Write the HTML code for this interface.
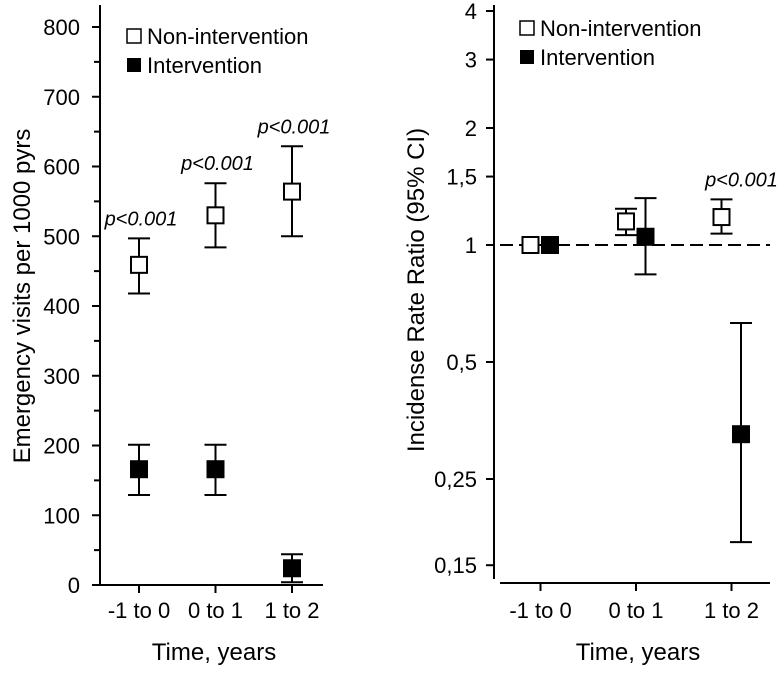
<!DOCTYPE html>
<html><head><meta charset="utf-8"><style>
html,body{margin:0;padding:0;background:#fff}
svg text{font-family:"Liberation Sans",Arial,sans-serif;fill:#000}
</style></head><body>
<svg width="780" height="668" viewBox="0 0 780 668">
<g id="L"></g>
<g id="R"></g>
</svg>
<script>
const categories = ["-1 to 0","0 to 1","1 to 2"];
// left panel: emergency visits per 1000 pyrs
const leftNonVal = [459,530,564];
const leftNonLo = [418,484,500];
const leftNonHi = [497,576,629];
const leftIntVal = [166,166,24];
const leftIntLo = [129,129,4];
const leftIntHi = [201,201,44];
const leftTicks = [0,100,200,300,400,500,600,700,800];
const leftPLabels = ["p<0.001","p<0.001","p<0.001"];
// right panel: incidence rate ratio
const rightNonVal = [1,1.15,1.18];
const rightNonLo = [1,1.06,1.07];
const rightNonHi = [1,1.24,1.31];
const rightIntVal = [1,1.05,0.326];
const rightIntLo = [1,0.84,0.172];
const rightIntHi = [1,1.32,0.63];
const rightTicks = [0.15,0.25,0.5,1,1.5,2,3,4];
const rightTickLabels = ["0,15","0,25","0,5","1","1,5","2","3","4"];
const rightPLabels = ["","","p<0.001"];

const NS="http://www.w3.org/2000/svg";
function mk(parent,tag,attrs,name,text){
  const e=document.createElementNS(NS,tag);
  for(const k in attrs) e.setAttribute(k,attrs[k]);
  
  
  if(text!==undefined) e.textContent=text;
  parent.appendChild(e); return e;
}
const line=(p,x1,y1,x2,y2,n,extra)=>mk(p,'line',Object.assign({x1,y1,x2,y2,stroke:'#000','stroke-width':2},extra||{}),n);

// ---------- LEFT ----------
const L=document.getElementById('L');
const ly=v=>585-v*0.6975;
const lx=i=>139+i*76.5;
line(L,100,5,100,585,'left-y-axis');
line(L,95,585,323,585,'left-x-axis');
leftTicks.forEach(t=>{
  line(L,92,ly(t),100,ly(t),'left-y-tick');
  mk(L,'text',{x:80,y:ly(t)+8,'text-anchor':'end','font-size':22},'left-y-tick-label',String(t));
  if(t<800) line(L,94,ly(t+50),100,ly(t+50),'left-y-minor-tick');
});
categories.forEach((c,i)=>{
  line(L,lx(i),585,lx(i),593,'left-x-tick');
  mk(L,'text',{x:lx(i),y:618,'text-anchor':'middle','font-size':22},'left-x-tick-label',c);
});
mk(L,'text',{x:214,y:660,'text-anchor':'middle','font-size':24},'left-x-axis-title','Time, years');
mk(L,'text',{x:0,y:0,'text-anchor':'middle','font-size':24,transform:'translate(30,296) rotate(-90)'},'left-y-axis-title','Emergency visits  per 1000 pyrs');
function series(P,xs,yf,val,lo,hi,filled,name){
  val.forEach((v,i)=>{
    const x=xs(i);
    if(lo[i]!==hi[i]){
      line(P,x,yf(lo[i]),x,yf(hi[i]),name+'-errorbar');
      line(P,x-11,yf(lo[i]),x+11,yf(lo[i]),name+'-errorbar-cap');
      line(P,x-11,yf(hi[i]),x+11,yf(hi[i]),name+'-errorbar-cap');
    }
    mk(P,'rect',{x:x-8,y:yf(v)-8,width:16,height:16,fill:filled?'#000':'#fff',stroke:'#000','stroke-width':2},name+'-marker');
  });
}
series(L,lx,ly,leftNonVal,leftNonLo,leftNonHi,false,'left-nonintervention');
series(L,lx,ly,leftIntVal,leftIntLo,leftIntHi,true,'left-intervention');
leftPLabels.forEach((p,i)=>{
  mk(L,'text',{x:lx(i)+2,y:ly(leftNonHi[i])-13,'text-anchor':'middle','font-size':20,'font-style':'italic'},'left-p-value',p);
});
mk(L,'rect',{x:127,y:29,width:14,height:14,fill:'#fff',stroke:'#000','stroke-width':1.5},'left-legend-nonintervention-swatch');
mk(L,'text',{x:147,y:44,'font-size':22},'left-legend-nonintervention-label','Non-intervention');
mk(L,'rect',{x:127,y:58,width:14,height:14,fill:'#000'},'left-legend-intervention-swatch');
mk(L,'text',{x:147,y:73,'font-size':22},'left-legend-intervention-label','Intervention');

// ---------- RIGHT ----------
const R=document.getElementById('R');
const ry=v=>245-117*Math.log2(v);
const rx=i=>540.5+i*95.5;
line(R,494,5,494,579,'right-y-axis');
line(R,500,583,770,583,'right-x-axis');
rightTicks.forEach((t,k)=>{
  line(R,486,ry(t),494,ry(t),'right-y-tick');
  mk(R,'text',{x:477,y:ry(t)+8,'text-anchor':'end','font-size':22},'right-y-tick-label',rightTickLabels[k]);
});
categories.forEach((c,i)=>{
  line(R,rx(i),583,rx(i),591,'right-x-tick');
  mk(R,'text',{x:rx(i),y:618,'text-anchor':'middle','font-size':22},'right-x-tick-label',c);
});
mk(R,'text',{x:638,y:660,'text-anchor':'middle','font-size':24},'right-x-axis-title','Time, years');
mk(R,'text',{x:0,y:0,'text-anchor':'middle','font-size':24,transform:'translate(424,290) rotate(-90)'},'right-y-axis-title','Incidense Rate Ratio (95% CI)');
line(R,500,ry(1),770,ry(1),'reference-line-1',{'stroke-dasharray':'13 6'});
series(R,i=>rx(i)-10,ry,rightNonVal,rightNonLo,rightNonHi,false,'right-nonintervention');
series(R,i=>rx(i)+9.5,ry,rightIntVal,rightIntLo,rightIntHi,true,'right-intervention');
rightPLabels.forEach((p,i)=>{
  if(p) mk(R,'text',{x:rx(i)+10,y:ry(rightNonHi[i])-13,'text-anchor':'middle','font-size':20,'font-style':'italic'},'right-p-value',p);
});
mk(R,'rect',{x:520,y:21,width:14,height:14,fill:'#fff',stroke:'#000','stroke-width':1.5},'right-legend-nonintervention-swatch');
mk(R,'text',{x:540,y:36,'font-size':22},'right-legend-nonintervention-label','Non-intervention');
mk(R,'rect',{x:520,y:50,width:14,height:14,fill:'#000'},'right-legend-intervention-swatch');
mk(R,'text',{x:540,y:65,'font-size':22},'right-legend-intervention-label','Intervention');
</script>
</body></html>
